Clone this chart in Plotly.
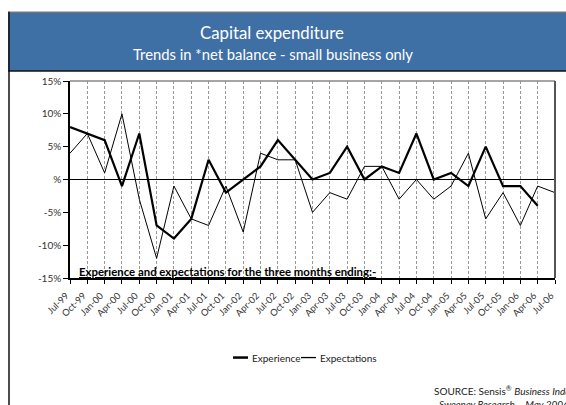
import plotly.graph_objects as go

# Quarter-ending labels, Jul-99 .. Jul-06
quarters = ["Jul-99", "Oct-99", "Jan-00", "Apr-00", "Jul-00", "Oct-00", "Jan-01",
            "Apr-01", "Jul-01", "Oct-01", "Jan-02", "Apr-02", "Jul-02", "Oct-02",
            "Jan-03", "Apr-03", "Jul-03", "Oct-03", "Jan-04", "Apr-04", "Jul-04",
            "Oct-04", "Jan-05", "Apr-05", "Jul-05", "Oct-05", "Jan-06", "Apr-06",
            "Jul-06"]

# Net balance (%) – experience has no reading yet for Jul-06
experience = [8, 7, 6, -1, 7, -7, -9, -6, 3, -2, 0, 2, 6, 3, 0, 1, 5, 0, 2, 1, 7,
              0, 1, -1, 5, -1, -1, -4, None]
expectations = [4, 7, 1, 10, -3, -12, -1, -6, -7, -1, -8, 4, 3, 3, -5, -2, -3, 2,
                2, -3, 0, -3, -1, 4, -6, -2, -7, -1, -2]

y_ticks = [-15, -10, -5, 0, 5, 10, 15]
y_tick_text = ["-15%", "-10%", "-5%", "%", "5%", "10%", "15%"]

series_names = ["Experience", "Expectations"]
series_widths = [2.2, 1]

W, H = 566, 405
L, R, T, B = 70, 555, 81, 277.6  # plot area in pixels


def px(x):
    return (x - L) / (R - L)


def py(y):
    return (B - y) / (B - T)


FONT = "Lato, Open Sans, sans-serif"

idx = list(range(len(quarters)))

fig = go.Figure()
for name, values, width in zip(series_names, [experience, expectations], series_widths):
    fig.add_trace(go.Scatter(x=idx, y=values, mode="lines", name=name,
                             line=dict(color="black", width=width)))

shapes = [
    # title band
    dict(type="rect", xref="paper", yref="paper", x0=px(8), x1=px(570),
         y0=py(71), y1=py(12.5), fillcolor="#3F70A5", line=dict(width=0), layer="below"),
    dict(type="line", xref="paper", yref="paper", x0=px(8), x1=px(570),
         y0=py(12.5), y1=py(12.5), line=dict(color="#777", width=1.5)),
    dict(type="line", xref="paper", yref="paper", x0=px(8), x1=px(570),
         y0=py(71), y1=py(71), line=dict(color="#111", width=1.5)),
    # left frame edge
    dict(type="line", xref="paper", yref="paper", x0=px(9), x1=px(9),
         y0=py(12), y1=py(410), line=dict(color="#111", width=1.5)),
    # plot-area border, top and right
    dict(type="line", xref="paper", yref="paper", x0=0, x1=1, y0=1, y1=1,
         line=dict(color="#888", width=1.5)),
    dict(type="line", xref="paper", yref="paper", x0=1, x1=1, y0=0, y1=1,
         line=dict(color="#555", width=2)),
]

annotations = [
    dict(text="Capital expenditure", x=px(272), y=py(33), xref="paper", yref="paper",
         xanchor="center", yanchor="middle", showarrow=False,
         font=dict(family=FONT, size=16.8, color="white")),
    dict(text="Trends in *net balance - small business only", x=px(273), y=py(54),
         xref="paper", yref="paper", xanchor="center", yanchor="middle", showarrow=False,
         font=dict(family=FONT, size=14.8, color="white")),
    dict(text="<b><u>Experience and expectations for the three months ending:-</u></b>",
         x=px(77), y=py(271), xref="paper", yref="paper", xanchor="left",
         yanchor="middle", showarrow=False,
         font=dict(family=FONT, size=11.4, color="black")),
    dict(text="SOURCE: Sensis<sup>®</sup> <i>Business Index</i>", x=px(432), y=py(390),
         xref="paper", yref="paper", xanchor="left", yanchor="middle", showarrow=False,
         font=dict(family=FONT, size=10, color="#222")),
    dict(text="<i>Sweeney Research – May 2006</i>", x=px(437), y=py(403),
         xref="paper", yref="paper", xanchor="left", yanchor="middle", showarrow=False,
         font=dict(family=FONT, size=10, color="#222")),
]

# Key: line sample followed by the series name
legend_x = [(233, 248), (301, 316)]
for name, width, (x0, x1) in zip(series_names, series_widths, legend_x):
    shapes.append(dict(type="line", xref="paper", yref="paper", x0=px(x0), x1=px(x1),
                       y0=py(357), y1=py(357), line=dict(color="black", width=width + 0.3)))
    annotations.append(dict(text=name, x=px(x1 + 2), y=py(357), xref="paper",
                            yref="paper", xanchor="left", yanchor="middle",
                            showarrow=False,
                            font=dict(family=FONT, size=10, color="#222")))

fig.update_layout(
    width=W, height=H,
    margin=dict(l=L, r=W - R, t=T, b=H - B, pad=0),
    paper_bgcolor="white", plot_bgcolor="white",
    font=dict(family=FONT, size=9, color="#333"),
    showlegend=False,
    shapes=shapes,
    annotations=annotations,
    xaxis=dict(range=[0, len(quarters) - 1], tickmode="array", tickvals=idx,
               ticktext=quarters, tickangle=-45, ticks="outside", ticklen=4,
               tickcolor="black", showline=True, linecolor="black", linewidth=1.5,
               showgrid=True, gridcolor="#999", griddash="3px,2px", gridwidth=1,
               zeroline=False, ticklabelstandoff=3, ticklabelshift=-4,
               tickfont=dict(family=FONT, size=9.3, color="#333")),
    yaxis=dict(range=[-15, 15], tickmode="array", tickvals=y_ticks, ticktext=y_tick_text,
               ticks="outside", ticklen=5, tickcolor="black", showline=True,
               linecolor="black", linewidth=1.5, showgrid=False,
               zeroline=True, zerolinecolor="black", zerolinewidth=1,
               tickfont=dict(family=FONT, size=10, color="#333")),
)

fig.write_html("out.html")
